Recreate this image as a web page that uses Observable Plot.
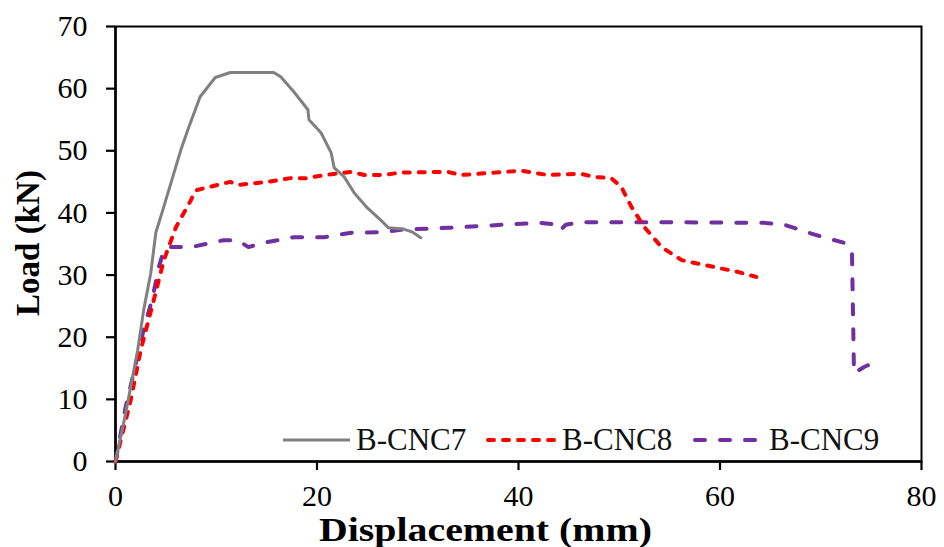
<!DOCTYPE html>
<html><head><meta charset="utf-8">
<script src="https://cdn.jsdelivr.net/npm/d3@7"></script>
<script src="https://cdn.jsdelivr.net/npm/@observablehq/plot@0.6"></script>
<style>body{margin:0;background:#fff}</style>
</head><body><div id="chart"></div>
<script>
const seriesNames = ["B-CNC7", "B-CNC8", "B-CNC9"];
const seriesColors = ["#808080", "#ff0000", "#7030a0"];

const cnc7Disp = [0,1.0,2.2,2.8,3.5,4.0,4.7,5.5,6.5,7.3,8.4,9.9,11.4,15.7,16.4,17.7,19.1,19.2,20.4,21.4,21.7,22.7,23.7,25.0,26.3,27.1,28.6,29.5,30.3];
const cnc7Load = [0,7.7,17.9,24.4,30.3,36.8,40.5,44.8,50.2,53.9,58.7,61.8,62.6,62.6,61.9,59.5,56.6,55.0,52.9,49.7,47.3,45.8,43.2,40.8,38.9,37.6,37.4,36.9,36.0];

const cnc8Disp = [0,1.5,2.5,3.8,4.8,6.0,7.5,7.8,8.1,11.4,12.1,15.1,17.4,19.1,20.7,23.4,24.7,26.6,28.3,33.0,34.3,40.3,42.9,46.2,47.5,49.2,50.2,51.2,52.5,54.2,56.2,59.4,61.8,63.6];
const cnc8Load = [0,9.8,17.9,26.0,32.4,37.7,42.1,43.2,43.7,45.0,44.5,45.0,45.6,45.6,46.1,46.6,46.1,46.1,46.5,46.6,46.1,46.8,46.1,46.3,45.8,45.6,44.2,41.0,37.7,34.5,32.4,31.3,30.5,29.7];

const cnc9Disp = [0,1.0,1.8,2.7,3.7,4.3,4.8,5.2,7.5,10.7,12.1,13.2,14.7,17.7,20.7,23.4,26.6,28.3,33.0,39.6,42.2,43.9,44.2,44.7,46.2,55.5,64.4,66.4,69.4,72.3,73.1,73.3,74.3,74.7,74.8];
const cnc9Load = [0,8.7,14.2,20.6,26.5,31.3,34.0,34.5,34.5,35.6,35.6,34.5,35.2,36.1,36.1,36.8,36.9,37.3,37.6,38.2,38.4,38.1,37.3,38.1,38.5,38.5,38.4,38.1,36.5,35.2,33.7,14.2,15.2,15.5,14.7];

const xTicks = [0, 20, 40, 60, 80];
const yTicks = [0, 10, 20, 30, 40, 50, 60, 70];

const toRows = (xs, ys) => xs.map((d, i) => ({x: d, y: ys[i]}));
const s7 = toRows(cnc7Disp, cnc7Load);
const s8 = toRows(cnc8Disp, cnc8Load);
const s9 = toRows(cnc9Disp, cnc9Load);

const W = 944, H = 547;
const plot = Plot.plot({
  width: W, height: H,
  marginLeft: 115, marginRight: 23, marginTop: 26, marginBottom: 86,
  style: {fontFamily: "'Liberation Serif', 'Times New Roman', serif", fontSize: "30px", color: "#000", background: "#fff"},
  x: {domain: [0, 80], label: null},
  y: {domain: [0, 70], label: null},
  marks: [
    Plot.frame({stroke: "#000", strokeWidth: 2}),
    Plot.axisX({ticks: xTicks, tickSize: 9, tickPadding: 14, tickFormat: d => String(d), strokeWidth: 2.2, label: null}),
    Plot.axisY({ticks: yTicks, tickSize: 9, tickPadding: 19, tickFormat: d => String(d), strokeWidth: 2.2, label: null}),
    Plot.ruleY([0], {stroke: "#000", strokeWidth: 2.5}),
    Plot.ruleX([0], {stroke: "#000", strokeWidth: 2.5}),
    Plot.line(s9, {x: "x", y: "y", stroke: seriesColors[2], strokeWidth: 4, strokeDasharray: "10,15", strokeLinecap: "round", strokeLinejoin: "round"}),
    Plot.line(s8, {x: "x", y: "y", stroke: seriesColors[1], strokeWidth: 4, strokeDasharray: "6,9", strokeLinecap: "round", strokeLinejoin: "round"}),
    Plot.line(s7, {x: "x", y: "y", stroke: seriesColors[0], strokeWidth: 3, strokeLinejoin: "round"})
  ]
});
document.getElementById("chart").appendChild(plot);

const svg = d3.select(plot);
// Axis titles
svg.append("text")
  .attr("transform", "translate(39,243) rotate(-90)")
  .attr("text-anchor", "middle")
  .attr("font-family", "'Liberation Serif', serif")
  .attr("font-weight", "bold").attr("font-size", 33).attr("fill", "#000")
  .text("Load (kN)");
svg.append("text")
  .attr("x", 319).attr("y", 541)
  .attr("text-anchor", "start")
  .attr("textLength", 333).attr("lengthAdjust", "spacingAndGlyphs")
  .attr("font-family", "'Liberation Serif', serif")
  .attr("font-weight", "bold").attr("font-size", 33).attr("fill", "#000")
  .text("Displacement (mm)");

// Legend
const legendItems = [
  {x0: 283, x1: 350, tx: 356, dash: null, w: 3},
  {x0: 488, x1: 556, tx: 562, dash: "6,9", w: 4},
  {x0: 695, x1: 762, tx: 769, dash: "10,15", w: 4}
];
legendItems.forEach((it, i) => {
  const g = svg.append("g");
  const ln = g.append("line").attr("x1", it.x0).attr("x2", it.x1).attr("y1", 440).attr("y2", 440)
    .attr("stroke", seriesColors[i]).attr("stroke-width", it.w);
  if (it.dash) ln.attr("stroke-dasharray", it.dash).attr("stroke-linecap", "round");
  g.append("text").attr("x", it.tx).attr("y", 450)
    .attr("text-anchor", "start")
    .attr("font-family", "'Liberation Serif', serif").attr("font-size", 31).attr("fill", "#111")
    .text(seriesNames[i]);
});
</script>
</body></html>
